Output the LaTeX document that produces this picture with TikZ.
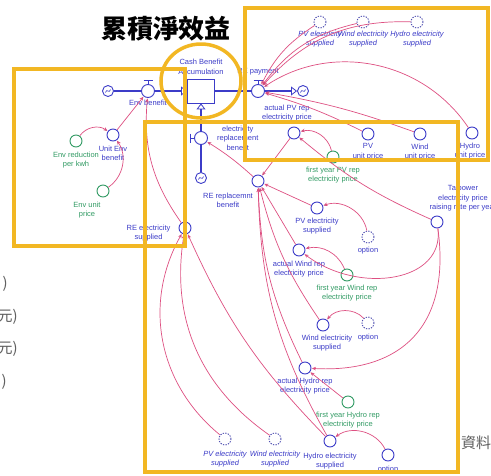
\documentclass[tikz,border=0pt]{standalone}
\usepackage{fontspec}
\setmainfont{Liberation Sans}
\newfontfamily\cjk{Noto Sans CJK TC}
\usetikzlibrary{positioning,arrows.meta}

\definecolor{frame}{RGB}{242,183,35}
\definecolor{vblue}{RGB}{60,60,200}
\definecolor{vgreen}{RGB}{50,155,100}
\definecolor{vpink}{RGB}{222,80,130}
\definecolor{vgray}{RGB}{95,95,95}

\begin{document}
\begin{tikzpicture}[x=1pt, y=-1pt, node distance=3pt,
    font=\fontsize{7.5}{9.5}\selectfont,
    aux/.style={circle, draw=vblue, fill=white, line width=0.9pt,
      minimum size=12pt, inner sep=0pt},
    cst/.style={aux, draw=vgreen},
    shd/.style={aux, draw=vblue!70!gray, dash pattern=on 1.3pt off 1.3pt},
    valve/.style={aux, minimum size=13pt},
    cloudy/.style={aux, minimum size=11pt},
    stock/.style={draw=vblue, fill=white, line width=0.9pt,
      minimum width=27pt, minimum height=24pt, inner sep=0pt},
    lbl/.style={text=vblue, align=center, inner sep=0pt},
    glbl/.style={lbl, text=vgreen},
    ilbl/.style={lbl, font=\fontsize{7.5}{9.5}\selectfont\itshape},
    conn/.style={draw=vpink, line width=0.7pt, shorten >=0.5pt,
      -{Stealth[length=4pt,width=3.5pt]}},
    pipe/.style={draw=vblue, line width=2pt,
      -{Triangle[open,length=6pt,width=9pt,line width=0.8pt]}},
    handle/.style={draw=vblue, line width=1pt},
    yframe/.style={draw=frame, line width=3.5pt},
    side/.style={text=vgray, inner sep=0pt,
      font=\cjk\fontsize{15}{15}\selectfont}]

  \useasboundingbox (0,0) rectangle (491,475);
  \fill[white] (0,0) rectangle (491,475);

  % title and cut-off texts
  \node[font=\cjk\bfseries\fontsize{26}{26}\selectfont] (title) at (166,29) {累積淨效益};
  \node[side, anchor=east] (side1) at (8,284) {)};
  \node[side, anchor=east] (side2) at (18,317) {元)};
  \node[side, anchor=east] (side3) at (18,349) {元)};
  \node[side, anchor=east] (side4) at (7,382) {)};
  \node[side, anchor=west] (source) at (461,443) {資料};

  % stock and flows
  \node[stock] (cash) at (201,91) {};
  \node[lbl, above=4pt of cash] (cashL) {Cash Benefit\\Accumulation};
  \node[cloudy] (cloudL) at (108,91) {};
  \node[cloudy] (cloudR) at (303,91) {};
  \node[cloudy] (cloudB) at (201,178) {};
  \draw[pipe] (cloudL) -- (cash);
  \draw[pipe] (cash) -- (cloudR);
  \draw[pipe] (cloudB) -- (cash);
  \foreach \c in {cloudL,cloudR,cloudB}
    \draw[vblue, line width=0.6pt] ([shift={(-2.5,1.5)}]\c.center)
      .. controls +(1,-5) and +(-1,5) .. ([shift={(2.5,-1.5)}]\c.center);

  \node[valve] (envv) at (148,91) {};
  \node[valve] (repay) at (258,91) {};
  \node[valve] (erval) at (201,138) {};
  \draw[handle] (envv.north) -- ++(0,-4) ++(-4.5,0) -- ++(9,0);
  \draw[handle] (repay.north) -- ++(0,-4) ++(-4.5,0) -- ++(9,0);
  \draw[handle] (erval.west) -- ++(-4,0) ++(0,-4.5) -- ++(0,9);
  \node[lbl, below=2pt of envv] (envvL) {Env benefit};
  \node[lbl, above=9pt of repay] (repayL) {RE payment};
  \node[lbl, right=9pt of erval] (ervalL) {electricity\\replacement\\benefit};

  % environment side
  \node[aux] (uenv) at (113,135) {};
  \node[lbl, below=4pt of uenv] (uenvL) {Unit Env\\benefit};
  \node[cst] (envred) at (76,141) {};
  \node[glbl, below=4pt of envred] (envredL) {Env reduction\\per kwh};
  \node[cst] (envprice) at (103,191) {};
  \node[glbl, below=4pt of envprice, xshift=-16pt] (envpriceL) {Env unit\\price};
  \node[aux] (ree) at (185,228) {};
  \node[lbl, left=8pt of ree, yshift=-5pt] (reeL) {RE electricity\\supplied};

  % payment side
  \node[shd] (spvt) at (320,22) {};
  \node[ilbl, below=2pt of spvt] (spvtL) {PV electricity\\supplied};
  \node[shd] (swindt) at (363,22) {};
  \node[ilbl, below=2pt of swindt] (swindtL) {Wind electricity\\supplied};
  \node[shd] (shydrot) at (417,22) {};
  \node[ilbl, below=2pt of shydrot] (shydrotL) {Hydro electricity\\supplied};
  \node[aux] (pvu) at (368,134) {};
  \node[lbl, below=3pt of pvu] (pvuL) {PV\\unit price};
  \node[aux] (windu) at (420,134) {};
  \node[lbl, below=3pt of windu] (winduL) {Wind\\unit price};
  \node[aux] (hydrou) at (472,133) {};
  \node[lbl, below=3pt of hydrou, xshift=-2pt] (hydrouL) {Hydro\\unit price};

  % replacement side
  \node[aux] (apv) at (294,133) {};
  \node[lbl, above=5pt of apv, xshift=-7pt] (apvL) {actual PV rep\\electricity price};
  \node[cst] (fypv) at (333,157) {};
  \node[glbl, below=3pt of fypv] (fypvL) {first year PV rep\\electricity price};
  \node[aux] (tai) at (437,222) {};
  \node[lbl, above=4pt of tai, xshift=26pt] (taiL) {Taipower\\electricity price\\raising rate per year};
  \node[aux] (rer) at (258,181) {};
  \node[lbl, below=5pt of rer, xshift=-30pt] (rerL) {RE replacemnt\\benefit};
  \node[aux] (pvs) at (317,208) {};
  \node[lbl, below=3pt of pvs] (pvsL) {PV electricity\\supplied};
  \node[shd] (opt1) at (368,237) {};
  \node[lbl, below=3pt of opt1] (opt1L) {option};
  \node[aux] (awind) at (299,250) {};
  \node[lbl, below=4pt of awind] (awindL) {actual Wind rep\\electricity price};
  \node[cst] (fywind) at (347,275) {};
  \node[glbl, below=3pt of fywind] (fywindL) {first year Wind rep\\electricity price};
  \node[aux] (winds) at (323,325) {};
  \node[lbl, below=3pt of winds, xshift=4pt] (windsL) {Wind electricity\\supplied};
  \node[shd] (opt2) at (368,323) {};
  \node[lbl, below=4pt of opt2] (opt2L) {option};
  \node[aux] (ahydro) at (305,368) {};
  \node[lbl, below=3pt of ahydro] (ahydroL) {actual Hydro rep\\electricity price};
  \node[cst] (fyhydro) at (348,402) {};
  \node[glbl, below=3pt of fyhydro] (fyhydroL) {first year Hydro rep\\electricity price};
  \node[aux] (hydros) at (330,441) {};
  \node[lbl, below=5pt of hydros] (hydrosL) {Hydro electricity\\supplied};
  \node[aux] (opt3) at (388,455) {};
  \node[lbl, below=4pt of opt3] (opt3L) {option};
  \node[shd] (spvb) at (225,439) {};
  \node[ilbl, below=5pt of spvb] (spvbL) {PV electricity\\supplied};
  \node[shd] (swindb) at (275,439) {};
  \node[ilbl, below=5pt of swindb] (swindbL) {Wind electricity\\supplied};

  % connectors
  \path[conn] (envred) edge[bend left=45] (uenv)
              (envprice) edge[bend right=45] (uenv)
              (uenv) edge (envv)
              (ree) edge[bend left=20] (envv)
              (rer) edge[bend right=5] (erval)
              (apv) edge (rer)
              (fypv) edge[bend right=45] (apv)
              (tai) edge[bend left=8] (apv)
              (pvs) edge (rer)
              (opt1) edge[bend right=50] (pvs)
              (awind) edge (rer)
              (fywind) edge[bend right=40] (awind)
              (winds) edge[bend left=10] (rer)
              (opt2) edge[bend right=50] (winds)
              (ahydro) edge[bend left=12] (rer)
              (fyhydro) edge (ahydro)
              (hydros) edge[bend left=14] (rer)
              (hydros) edge[bend left=10] (ree)
              (opt3) edge[bend right=50] (hydros)
              (spvb) edge[bend left=40] (ree)
              (swindb) edge[bend left=32] (ree)
              (spvt) edge[bend right=15] (repay)
              (swindt) edge[bend right=20] (repay)
              (shydrot) edge[bend right=25] (repay)
              (hydrou) edge[bend right=45] (repay)
              (pvu) edge[bend right=5] (repay)
              (windu) edge[bend right=5] (repay);
  \draw[conn] (tai) .. controls +(8,60) and +(60,45) .. (awind);
  \draw[conn] (tai) .. controls +(15,110) and +(90,5) .. (ahydro);

  % highlight frames
  \draw[yframe] (14,69) rectangle (185,246);
  \draw[yframe] (245,8) rectangle (488,160);
  \draw[yframe] (145,122) rectangle (458,472);
  \draw[yframe] (201,81) ellipse [x radius=40, y radius=37];
\end{tikzpicture}
\end{document}
